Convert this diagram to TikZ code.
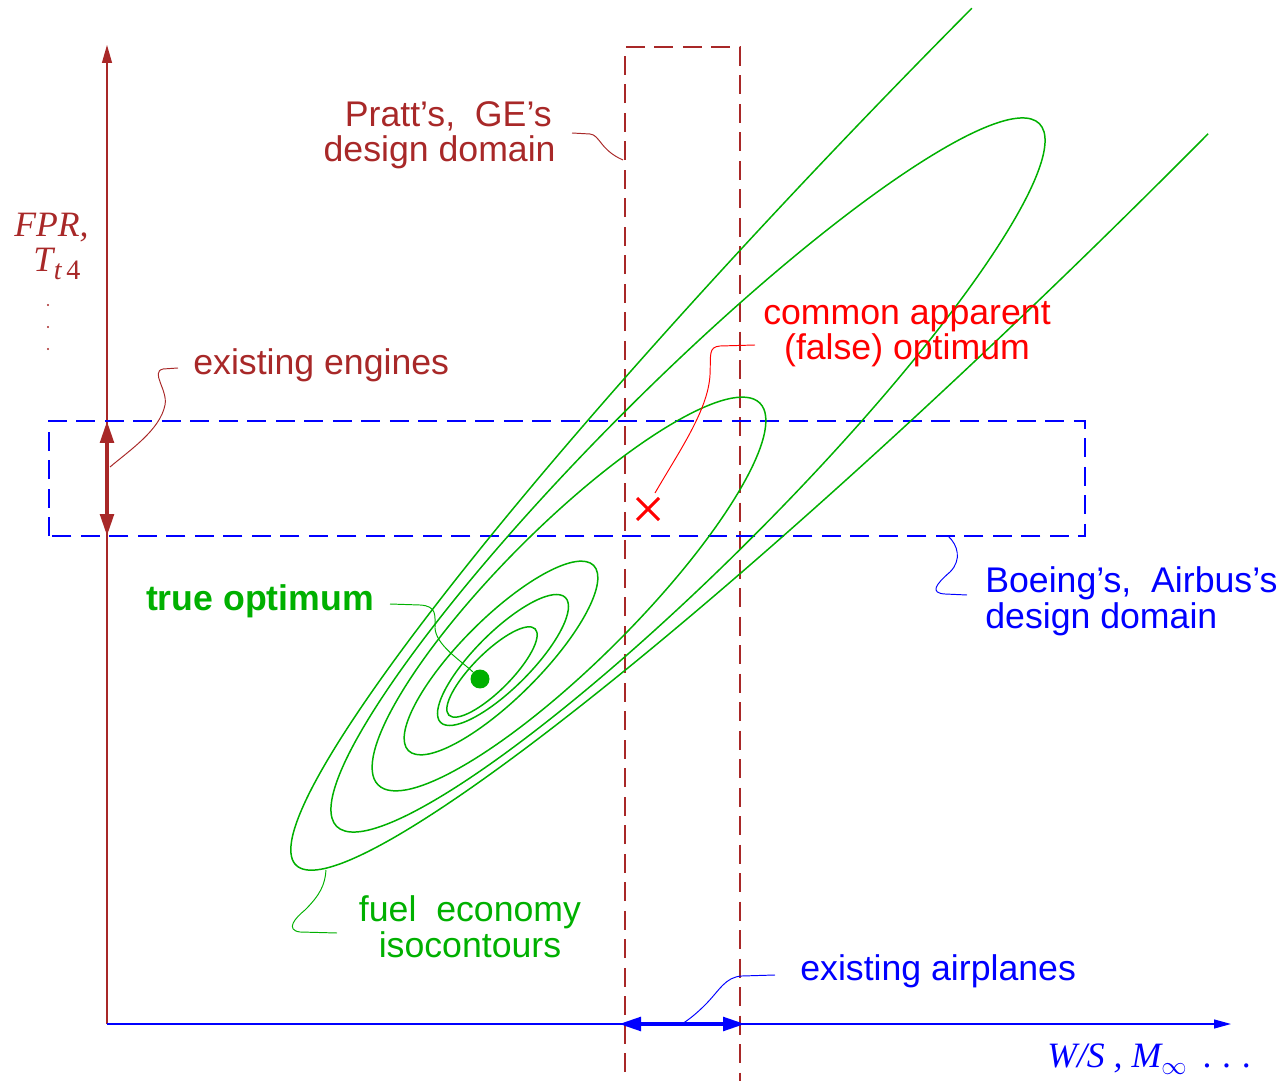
\documentclass[tikz,border=0pt]{standalone}
\usepackage{fontspec}
\setmainfont{Liberation Sans}
\newfontfamily\tnr{Liberation Serif}
\usetikzlibrary{arrows.meta}
\definecolor{dred}{RGB}{168,40,40}
\definecolor{dgreen}{RGB}{0,176,0}
\definecolor{pblue}{RGB}{0,0,255}
\definecolor{pred}{RGB}{255,0,0}
\begin{document}
\begin{tikzpicture}[x=0.02cm,y=-0.02cm,
  lbl/.style={inner sep=0pt, font=\fontsize{20.3}{20}\selectfont},
  contour/.style={dgreen, line width=0.85pt},
  leader/.style={line width=0.55pt},
  ddash/.style={line width=0.85pt, dash pattern=on 0.38cm off 0.19cm},
  axisline/.style={line width=0.7pt},
  thickarr/.style={line width=2.2pt, {Triangle[length=0.44cm,width=0.27cm]}-{Triangle[length=0.44cm,width=0.27cm]}}]
\useasboundingbox (0,0) rectangle (1286,1081);

% axes
\coordinate (O) at (107,1024);
\coordinate (ytop) at (107,45);
\coordinate (xend) at (1231,1024);
\draw[dred, axisline, -{Triangle[length=0.36cm,width=0.2cm]}] (O) -- (ytop);
\draw[pblue, axisline, -{Triangle[length=0.34cm,width=0.18cm]}] (O) -- (xend);

% design domains
\coordinate (pl) at (625,1072);
\coordinate (pr) at (740,1081);
\draw[dred, ddash] (pl) -- (625,47) -- (740,47) -- (pr);
\coordinate (bbl) at (49,536);
\coordinate (btr) at (1085,421);
\draw[pblue, ddash] (bbl) rectangle (btr);

% existing ranges
\coordinate (eng1) at (107,421);
\coordinate (eng2) at (107,536);
\draw[dred, thickarr] (eng1) -- (eng2);
\coordinate (air1) at (619,1024);
\coordinate (air2) at (745,1024);
\draw[pblue, thickarr] (air1) -- (air2);

% contours
\draw[contour] plot[domain=88:268, samples=160, smooth]
  ({1090 + 1123*0.7071*cos(\x) + 128*0.7071*sin(\x)}, {71 - 1123*0.7071*cos(\x) + 128*0.7071*sin(\x)});
\draw[contour, rotate around={45:(688,475)}] (688,475) ellipse [x radius=9.94cm, y radius=1.79cm];
\draw[contour, rotate around={45:(569,594)}] (569,594) ellipse [x radius=5.4cm, y radius=1.36cm];
\draw[contour, rotate around={45:(501,658)}] (501,658) ellipse [x radius=2.62cm, y radius=0.8cm];
\draw[contour, rotate around={45:(503,660)}] (503,660) ellipse [x radius=1.766cm, y radius=0.56cm];
\draw[contour, rotate around={45:(492,672)}] (492,672) ellipse [x radius=1.22cm, y radius=0.38cm];

% optimum markers
\coordinate (topt) at (480,679);
\fill[dgreen] (topt) circle [radius=0.19cm];
\coordinate (fopt) at (648,509);
\draw[pred, line width=1.7pt] ([shift={(-11,-11)}]fopt) -- ([shift={(11,11)}]fopt)
  ([shift={(-11,11)}]fopt) -- ([shift={(11,-11)}]fopt);

% labels
\node[lbl, dred, anchor=base east] (pratt1) at (552,127) {Pratt’s,\ \ GE’s};
\node[lbl, dred, anchor=base east] (pratt2) at (556,162) {design domain};
\node[lbl, dred, anchor=base west] (eng) at (193,375) {existing engines};
\node[lbl, pred, anchor=base] (com1) at (907,325) {common apparent};
\node[lbl, pred, anchor=base] (com2) at (907,360) {(false) optimum};
\node[lbl, dgreen, anchor=base, font=\fontsize{20.3}{20}\selectfont\bfseries] (tru) at (260,610) {true optimum};
\node[lbl, pblue, anchor=base west] (boe1) at (985,592) {Boeing’s,\ \ Airbus’s};
\node[lbl, pblue, anchor=base west] (boe2) at (985,628) {design domain};
\node[lbl, dgreen, anchor=base] (fuel1) at (470,921) {fuel\ \ economy};
\node[lbl, dgreen, anchor=base] (fuel2) at (470,957) {isocontours};
\node[lbl, pblue, anchor=base west] (airp) at (800,980) {existing airplanes};
\node[lbl, dred, anchor=base west] (fpr) at (14,237) {\tnr\itshape FPR,};
\node[lbl, dred, anchor=base west] (tt4) at (33,272) {\tnr\itshape T\kern0.02em\raisebox{-4.5pt}{\fontsize{16}{16}\selectfont t\,\upshape 4}};
\foreach \yy in {305,327,349} \fill[dred] (48,\yy) circle [radius=0.024cm];
\node[lbl, pblue, anchor=base west] (ws) at (1047,1067) {\tnr\itshape W/S , M\raisebox{-4.5pt}{\fontsize{15}{15}\selectfont$\infty$}\hspace{0.45em}\upshape.\hspace{0.3em}.\hspace{0.3em}.};

% leaders
\coordinate (prattS) at (572,133); \coordinate (prattE) at (623,160);
\draw[leader, dred] (prattS) -- (590,134) .. controls (600,135) and (600,150) .. (prattE);
\coordinate (engS) at (178,368); \coordinate (engE) at (110,467);
\draw[leader, dred] (engS) -- (163,369) .. controls (150,372) and (168,390) .. (165,405) .. controls (160,430) and (130,450) .. (engE);
\coordinate (comS) at (755,345); \coordinate (comE) at (655,493);
\draw[leader, pred] (comS) -- (720,346) .. controls (708,347) and (711,355) .. (710,375) .. controls (708,410) and (680,450) .. (comE);
\coordinate (truS) at (390,604); \coordinate (truE) at (473,672);
\draw[leader, dgreen] (truS) -- (420,605) .. controls (437,606) and (435,615) .. (435,628) .. controls (436,645) and (460,660) .. (truE);
\coordinate (fuelS) at (337,933); \coordinate (fuelE) at (326,870);
\draw[leader, dgreen] (fuelS) -- (300,932) .. controls (285,930) and (295,918) .. (305,910) .. controls (320,895) and (325,885) .. (fuelE);
\coordinate (boeS) at (967,595); \coordinate (boeE) at (948,536);
\draw[leader, pblue] (boeS) -- (945,594) .. controls (930,593) and (935,585) .. (950,572) .. controls (962,560) and (958,545) .. (boeE);
\coordinate (airS) at (775,975); \coordinate (airE) at (682,1024);
\draw[leader, pblue] (airS) -- (742,976) .. controls (725,977) and (720,990) .. (705,1005) .. controls (695,1015) and (688,1020) .. (airE);
\end{tikzpicture}
\end{document}
